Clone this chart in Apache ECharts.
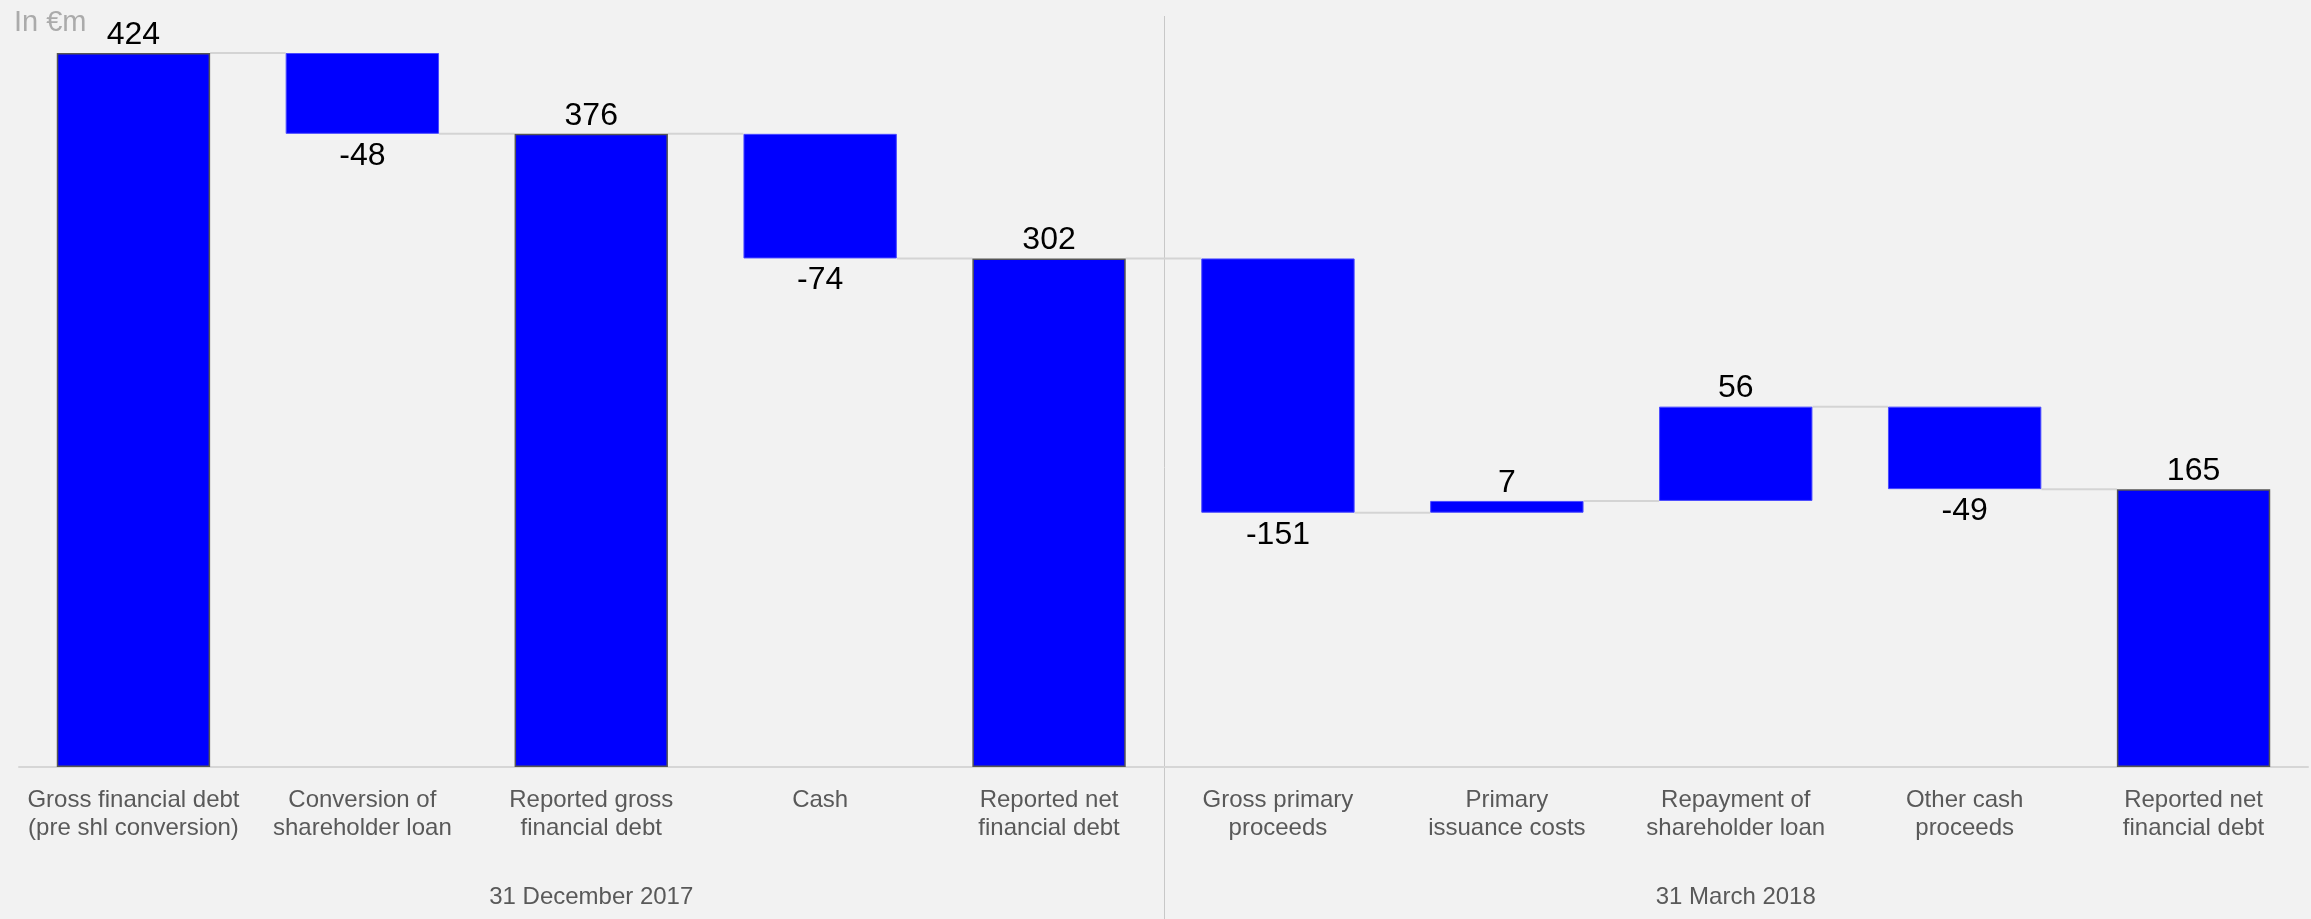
<!DOCTYPE html>
<html>
<head>
<meta charset="utf-8">
<title>Net financial debt bridge</title>
<script src="https://cdn.jsdelivr.net/npm/echarts@6/dist/echarts.min.js"></script>
<style>
  html, body { margin: 0; padding: 0; background: #f2f2f2; }
  #chart { width: 2311px; height: 919px; }
</style>
</head>
<body>
<div id="chart"></div>
<script>
// Bridge steps (€m)
const categories = [
  'Gross financial debt\n(pre shl conversion)',
  'Conversion of\nshareholder loan',
  'Reported gross\nfinancial debt',
  'Cash',
  'Reported net\nfinancial debt',
  'Gross primary\nproceeds',
  'Primary\nissuance costs',
  'Repayment of\nshareholder loan',
  'Other cash\nproceeds',
  'Reported net\nfinancial debt'
];
const values = [424, -48, 376, -74, 302, -151, 7, 56, -49, 165];
const isTotal = [true, false, true, false, true, false, false, false, false, true];

// Period groups: index ranges of the categories they cover
const groupNames = ['31 December 2017', '31 March 2018'];
const groupStart = [0, 5];
const groupEnd = [4, 9];

const unitLabel = 'In €m';

// Build invisible base + visible segment for each step
const baseData = [];
const barData = [];
const levels = [];
let running = 0;
values.forEach((v, i) => {
  let lo, hi;
  if (isTotal[i]) {
    lo = 0; hi = v; running = v;
  } else {
    const end = running + v;
    lo = Math.min(running, end); hi = Math.max(running, end);
    running = end;
  }
  levels.push(running);
  baseData.push(lo);
  const down = !isTotal[i] && v < 0;
  barData.push({
    value: hi - lo,
    itemStyle: isTotal[i]
      ? { borderColor: '#555555', borderWidth: 1.5 }
      : { borderColor: '#4a4aff', borderWidth: 1 },
    label: { position: down ? 'bottom' : 'top', distance: down ? 6 : 2 }
  });
});

// Connector lines between consecutive bars at the running level
const connectorData = levels.slice(0, -1).map((lv, i) => [i, lv]);

// Group captions sit under the middle category of each group
const groupCaption = {};
groupNames.forEach((g, k) => {
  groupCaption[(groupStart[k] + groupEnd[k]) / 2] = g;
});

const FONT = "'Liberation Sans', Arial, sans-serif";
const BAR_FRACTION = 0.67;

const chart = echarts.init(document.getElementById('chart'), null, { renderer: 'canvas' });

const option = {
  backgroundColor: '#f2f2f2',
  animation: false,
  title: {
    text: unitLabel,
    left: 9,
    top: 3,
    textStyle: { fontFamily: FONT, fontSize: 29, fontWeight: 'normal', color: '#ababab' }
  },
  grid: { left: 19, right: 3, top: 53, bottom: 152 },
  xAxis: [
    {
      type: 'category',
      data: categories,
      axisLine: { show: true, lineStyle: { color: '#d6d6d6', width: 2 } },
      axisTick: { show: false },
      axisLabel: {
        interval: 0,
        margin: 19,
        fontFamily: FONT,
        fontSize: 24,
        lineHeight: 28,
        color: '#595959'
      }
    },
    {
      type: 'category',
      data: categories.map((c, i) => i),
      position: 'bottom',
      axisLine: { show: false },
      axisTick: { show: false },
      axisLabel: {
        interval: 0,
        margin: 116,
        fontFamily: FONT,
        fontSize: 24,
        lineHeight: 28,
        color: '#595959',
        formatter: (v, i) => groupCaption[i] || ''
      }
    }
  ],
  yAxis: {
    type: 'value',
    min: 0,
    max: 424,
    show: false,
    splitLine: { show: false }
  },
  series: [
    {
      type: 'custom',
      name: 'connectors',
      z: 1,
      data: connectorData,
      renderItem: (params, api) => {
        const i = api.value(0);
        const p = api.coord([i, api.value(1)]);
        const band = api.size([1, 0])[0];
        const half = band * BAR_FRACTION / 2;
        return {
          type: 'line',
          shape: { x1: p[0] + half, y1: p[1], x2: p[0] + band - half, y2: p[1] },
          style: { stroke: '#d4d4d4', lineWidth: 2 }
        };
      }
    },
    {
      type: 'bar',
      stack: 'bridge',
      data: baseData,
      barWidth: (BAR_FRACTION * 100) + '%',
      itemStyle: { color: 'transparent' },
      emphasis: { disabled: true },
      silent: true
    },
    {
      type: 'bar',
      stack: 'bridge',
      data: barData,
      barWidth: (BAR_FRACTION * 100) + '%',
      z: 3,
      itemStyle: { color: '#0000ff' },
      label: {
        show: true,
        fontFamily: FONT,
        fontSize: 32,
        color: '#000000',
        formatter: (p) => String(values[p.dataIndex])
      }
    }
  ]
};

chart.setOption(option);

// Vertical divider between the two periods
const a = chart.convertToPixel({ xAxisIndex: 0 }, groupEnd[0]);
const b = chart.convertToPixel({ xAxisIndex: 0 }, groupStart[1]);
const xDiv = Math.round((a + b) / 2) + 0.5;
chart.setOption({
  graphic: [{
    type: 'line',
    shape: { x1: xDiv, y1: 16, x2: xDiv, y2: 919 },
    style: { stroke: '#c8c8c8', lineWidth: 1 },
    z: 0
  }]
});
</script>
</body>
</html>
